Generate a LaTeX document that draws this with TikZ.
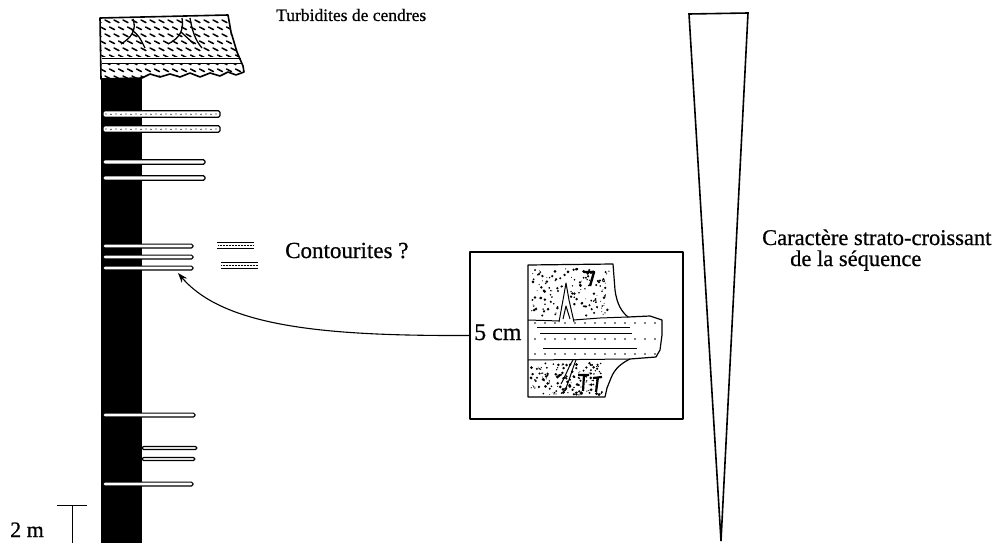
\documentclass[tikz,border=0pt]{standalone}
\usepackage{fontspec}
\setmainfont{Liberation Serif}
\newfontfamily\scanfont{Liberation Serif}[FakeBold=0.7]
\usetikzlibrary{arrows.meta}

% outline of the ash-turbidite cap on top of the log
\def\ashblock{(100,18) -- (228,15) -- (231,32) -- (237,52) -- (243,66) -- (244,72)
  -- (236,75) -- (228,72) -- (220,76) -- (210,73) -- (200,77) -- (190,73) -- (180,77)
  -- (170,74) -- (160,77) -- (150,74) -- (142,78) -- (101,79) -- cycle}

\begin{document}
\begin{tikzpicture}[x=1pt,y=-1pt,line join=round,
  lbl/.style={inner sep=0pt,anchor=base west},
  bandbox/.style={draw=black,fill=white,line width=1.2pt,rounded corners=1.5pt},
  thinline/.style={line width=1pt},
]
\useasboundingbox (0,0) rectangle (998,543);

% ---------- lithological column ----------
\fill (101,70) rectangle (142,543);

% ash turbidite cap
\fill[white] \ashblock;
\begin{scope}
  \clip \ashblock;
  \foreach \i in {0,...,17}{
    \foreach \j in {0,...,8}{
      \pgfmathsetmacro\hx{96+\i*9+mod(\j,2)*4.5}
      \pgfmathsetmacro\hy{20+\j*7}
      \draw[line width=1.5pt,line cap=round] (\hx,\hy) -- ++(5,2.6);
    }
  }
  \fill[white] (100,57.5) rectangle (245,64.5);
\end{scope}
\draw[line width=1.6pt] \ashblock;
\draw[thinline] (102,58.5) -- (241,58.5);
\draw[thinline] (102,63.5) -- (242,63.5);
% cracks in the ash
\draw[line width=1.3pt] (133,19) .. controls (137,30) and (131,38) .. (121,44);
\draw[line width=1.3pt] (132,30) .. controls (139,36) .. (145,48);
\draw[line width=1.3pt] (182,18) .. controls (184,30) and (180,38) .. (168,44);
\draw[line width=1.3pt] (181,32) .. controls (188,38) .. (194,44);
\draw[line width=1.3pt] (190,18) .. controls (192,30) and (195,40) .. (202,48);

% sandy / silty beds
\foreach \yc/\xa/\xb/\hh in {162/103/205/2.3, 178/103/205/2.3,
    246/103/193/1.9, 257/103/193/1.9, 268/103/193/1.9,
    415/103/195/1.9, 448/142/197/1.5, 459/142/195/1.5, 484/103/193/1.9}{
  \draw[bandbox] (\xa,\yc-\hh) rectangle (\xb,\yc+\hh);
}
\foreach \yc in {114,129}{
  \draw[bandbox] (103,\yc-3.2) rectangle (220,\yc+3.2);
  \foreach \k in {0,...,22}{
    \pgfmathsetmacro\dx{106+\k*5}
    \pgfmathsetmacro\dy{\yc+0.4*mod(\k,2)}
    \fill (\dx,\dy) circle (0.7);
  }
}

% contourite symbol
\draw[thinline] (217,242) -- (254,242);
\draw[line width=0.5pt,densely dotted] (218,245) -- (254,245);
\draw[thinline] (217,248) -- (254,248);
\draw[thinline] (221,262) -- (258,262);
\draw[line width=0.5pt,densely dotted] (221,265) -- (258,265);
\draw[thinline] (221,268) -- (258,268);

% scale bar
\draw[line width=1pt] (57,505) -- (87,505);
\draw[line width=1pt] (72,505) -- (72,543);
\node[lbl,font=\scanfont\fontsize{22}{24}\selectfont] (scale) at (10,537) {2 m};

% labels
\node[lbl,font=\scanfont\fontsize{17.5}{19}\selectfont] (ash) at (276,21) {Turbidites de cendres};
\node[lbl,font=\scanfont\fontsize{23}{25}\selectfont] (cont) at (285,258) {Contourites ?};
\node[lbl,align=left,font=\scanfont\fontsize{22.5}{21}\selectfont] (trend) at (762,266)
  {Caractère strato-croissant\\\hspace*{28pt}de la séquence};

% thickening-upward wedge
\draw[line width=1.6pt,line join=miter] (689,14) -- (748,13) -- (721,541) -- cycle;

% ---------- core photo inset ----------
\node[draw,line width=1.1pt,minimum width=213pt,minimum height=167pt,inner sep=0pt]
  (inset) at (576.5,335.5) {};
\node[lbl,font=\scanfont\fontsize{24}{26}\selectfont] (cm) at (474,340) {5 cm};

% core slab
\draw[line width=1.2pt,fill=white] (528,265) -- (613,264) -- (615,290)
  .. controls (617,305) and (622,312) .. (628,317) -- (650,316) -- (662,320)
  -- (662,335) -- (660,350) -- (656,357) -- (630,359)
  .. controls (622,363) and (615,368) .. (611,378) -- (607,388) -- (605,397)
  -- (528,397) -- cycle;
% sandy contourite layer
\draw[thinline] (528,320) -- (560,321) -- (600,318) -- (628,317);
\draw[thinline] (528,360) -- (630,359);
\draw[thinline] (537,327) -- (630,327);
\draw[thinline] (540,333) -- (632,333);
\draw[thinline] (543,348) -- (637,348);
\foreach \yc in {323,339,354}{
  \foreach \k in {0,...,12}{
    \pgfmathsetmacro\dx{535+\k*10}
    \fill (\dx,\yc) circle (0.8);
  }
}
% mottled mud with burrows
\pgfmathsetseed{17}
\foreach \k in {1,...,150}{
  \pgfmathsetmacro\px{531+78*rnd}
  \pgfmathsetmacro\py{268+48*rnd}
  \pgfmathsetmacro\pr{0.4+1.1*rnd}
  \fill (\px,\py) circle (\pr);
}
\foreach \k in {1,...,150}{
  \pgfmathsetmacro\px{531+72*rnd}
  \pgfmathsetmacro\py{363+32*rnd}
  \pgfmathsetmacro\pr{0.4+1.2*rnd}
  \fill (\px,\py) circle (\pr);
}
\fill[white] (559,322) -- (563,300) -- (566,283) -- (569,300) -- (574,322) -- cycle;
\draw[thinline] (559,322) -- (563,300) -- (566,283) -- (569,300) -- (574,322);
\draw[thinline] (563,319) -- (566,306) -- (570,319);
\draw[line width=2.4pt] (584,272) -- (594,272) -- (590,286);
\draw[thinline] (573,360) .. controls (568,368) and (566,375) .. (561,384);
\draw[thinline] (576,360) .. controls (572,370) and (570,378) .. (566,388);
\draw[line width=2.2pt] (578,375) -- (589,375) (584,375) -- (583,391);
\draw[line width=2.2pt] (593,378) -- (602,377) (598,377) -- (596,392);

% arrow from the core photo to the contourite beds
\coordinate (tip) at (178,273);
\draw[line width=1.1pt,-{Stealth[length=10pt,width=7pt]}]
  (inset.west) .. controls (330,336) and (225,328) .. (tip);
\end{tikzpicture}
\end{document}
